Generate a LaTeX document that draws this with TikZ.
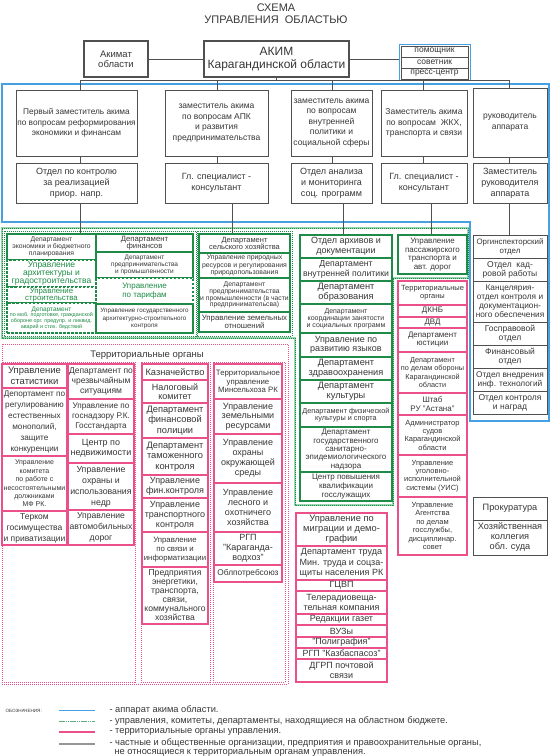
\documentclass[tikz,border=0pt]{standalone}
\usepackage{fontspec}
\setmainfont{Liberation Sans}
\definecolor{bl}{RGB}{70,160,225}
\definecolor{gr}{RGB}{30,140,70}
\definecolor{lgr}{RGB}{150,215,175}
\definecolor{pk}{RGB}{236,80,138}
\definecolor{dg}{RGB}{80,80,80}
\definecolor{tx}{RGB}{55,55,55}
\tikzset{
 f/.style 2 args={font=\fontsize{#1}{#2}\selectfont},
 base/.style={align=center,inner sep=0pt,text=tx,fill=white},
 gb/.style={base,draw=dg,line width=0.9pt},
 tb/.style={base,draw=dg,line width=2pt},
 gn/.style={base,draw=gr,line width=1.4pt},
 gd/.style={base,draw=gr,line width=1.4pt,dash pattern=on 2.5pt off 1.5pt,text=gr},
 pb/.style={base,draw=pk,line width=1.1pt},
 conn/.style={draw=dg,line width=0.8pt},
 dotpk/.style={draw=pk,line width=0.8pt,dash pattern=on 1pt off 1pt},
 dotgr/.style={draw=gr,line width=0.8pt,dash pattern=on 1pt off 1pt},
}
\newcommand\bx[7]{\node[#1,minimum width={(#4-#2)*1pt},minimum height={(#5-#3)*1pt}] (#6) at ({(#2+#4)/2},{(#3+#5)/2}) {#7};}
\begin{document}
\begin{tikzpicture}[x=1pt,y=-1pt]
\useasboundingbox (0,0) rectangle (552,756);
% title
\node[f={11}{12},text=tx] (t1) at (276,8) {СХЕМА};
\node[f={11}{12},text=tx] (t2) at (276,20) {УПРАВЛЕНИЯ\ \ ОБЛАСТЬЮ};
% frames
\draw[bl,line width=1.1pt] (2,84) -- (549,84) -- (549,421) -- (470,421) -- (470,222) -- (2,222) -- cycle;
\draw[lgr,line width=2pt] (2,228) -- (468,228) -- (468,278) -- (393,278) -- (393,505) -- (295,505) -- (295,338) -- (2,338) -- cycle;
\draw[gr,line width=0.6pt,dash pattern=on 0.8pt off 1.2pt] (2,228) -- (468,228) -- (468,278) -- (393,278) -- (393,505) -- (295,505) -- (295,338) -- (2,338) -- cycle;
\draw[dotgr] (4,231) rectangle (196,336);
\draw[dotgr] (197,231) rectangle (292,336);
\draw[dotpk] (2,344) rectangle (288,684);
\draw[dotpk] (2,362) rectangle (135,682);
\draw[dotpk] (141,362) rectangle (210,682);
\draw[dotpk] (213,362) rectangle (285,682);
% top
\bx{tb,f={9.5}{10}}{84}{41}{148}{77}{akimat}{Акимат\\области}
\bx{tb,f={12}{13}}{204}{41}{349}{77}{akim}{АКИМ\\Карагандинской области}
\node[draw=bl,line width=1pt,minimum width=71pt,minimum height=36pt,inner sep=0pt] (pgrp) at (434.5,62) {};
\bx{gb,f={8.5}{9}}{401}{46}{468}{57}{pom}{помощник}
\bx{gb,f={8.5}{9}}{401}{57}{468}{68}{sov}{советник}
\bx{gb,f={8.5}{9}}{401}{68}{468}{79}{press}{пресс-центр}
% deputies
\bx{gb,f={8.3}{10.5}}{16}{90}{137}{156}{d1}{Первый заместитель акима\\по вопросам реформирования\\экономики и финансам}
\bx{gb,f={8.5}{10.5}}{165}{90}{268}{156}{d2}{заместитель акима\\по вопросам АПК\\и развития\\предпринимательства}
\bx{gb,f={8.5}{10.5}}{291}{90}{372}{156}{d3}{заместитель акима\\по вопросам\\внутренней\\политики и\\социальной сферы}
\bx{gb,f={8.5}{10.5}}{381}{90}{467}{156}{d4}{Заместитель акима\\по вопросам\ \ ЖКХ,\\транспорта и связи}
\bx{gb,f={8.5}{10.5}}{473}{88}{547}{157}{ruk}{руководитель\\аппарата}
\bx{gb,f={9}{11}}{16}{163}{137}{203}{s1}{Отдел по контролю\\за реализацией\\приор. напр.}
\bx{gb,f={9}{11}}{165}{163}{268}{203}{s2}{Гл. специалист -\\консультант}
\bx{gb,f={9}{11}}{291}{163}{372}{203}{s3}{Отдел анализа\\и мониторинга\\соц. программ}
\bx{gb,f={9}{11}}{381}{163}{467}{203}{s4}{Гл. специалист -\\консультант}
\bx{gb,f={9}{11}}{473}{163}{547}{203}{s5}{Заместитель\\руководителя\\аппарата}
% green left
\bx{gn,f={6.8}{7.3}}{7}{234}{96}{260}{g1}{Департамент\\экономики и бюджетного\\планирования}
\bx{gd,f={8.5}{7.8}}{7}{260}{96}{287}{g2}{Управление\\архитектуры и\\градостроительства}
\bx{gd,f={7.8}{7}}{7}{287}{96}{303}{g3}{Управление\\строительства}
\bx{gd,f={5.4}{5.6}}{7}{303}{96}{333}{g4}{{\fontsize{6.5}{6}\selectfont Департамент}\\по моб. подготовке, гражданской\\обороне орг. предупр. и ликвид.\\аварий и стих. бедствий}
\bx{gn,f={7.7}{7.5}}{96}{234}{193}{252}{g5}{Департамент\\финансов}
\bx{gn,f={6.5}{7.3}}{96}{252}{193}{278}{g6}{Департамент\\предпринимательства\\и промышленности}
\bx{gd,f={8}{8.5}}{96}{278}{193}{304}{g7}{Управление\\по тарифам}
\bx{gn,f={6.3}{7.3}}{96}{304}{193}{333}{g8}{Управление государственного\\архитектурно-строительного\\контроля}
% green center
\bx{gn,f={7.5}{7.7}}{199}{234}{290}{253}{c1}{Департамент\\сельского хозяйства}
\bx{gn,f={6.9}{7.2}}{199}{253}{290}{278}{c2}{Управление природных\\ресурсов и регулирования\\природопользования}
\bx{gn,f={6.8}{6.8}}{199}{278}{290}{312}{c3}{Департамент\\предпринимательства\\и промышленности (в части\\предпринимательсва)}
\bx{gn,f={7.8}{7.8}}{199}{312}{290}{332}{c4}{Управление земельных\\отношений}
% column 3
\bx{gn,f={9}{10}}{300}{235}{392}{258}{k1}{Отдел архивов и\\документации}
\bx{gn,f={8.7}{9.5}}{300}{258}{392}{281}{k2}{Департамент\\внутренней политики}
\bx{gn,f={9.3}{10}}{300}{281}{392}{304}{k3}{Департамент\\образования}
\bx{gn,f={7}{7}}{300}{304}{392}{333}{k4}{Департамент\\координации занятости\\и социальных программ}
\bx{gn,f={9}{8.8}}{300}{333}{392}{357}{k5}{Управление по\\развитию языков}
\bx{gn,f={9.2}{9.5}}{300}{357}{392}{380}{k6}{Департамент\\здравоохранения}
\bx{gn,f={9.2}{9.5}}{300}{380}{392}{403}{k7}{Департамент\\культуры}
\bx{gn,f={7.3}{7.7}}{300}{403}{392}{427}{k8}{Департамент физической\\культуры и спорта}
\bx{gn,f={8}{8.3}}{300}{427}{392}{472}{k9}{Департамент\\государственного\\санитарно-\\эпидемиологического\\надзора}
\bx{gn,f={8}{8.7}}{300}{472}{392}{501}{k10}{Центр повышения\\квалификации\\госслужащих}
% transport
\bx{gn,line width=1.8pt,f={8}{8.6}}{398}{235}{467}{274}{tr}{Управление\\пассажирского\\транспорта и\\авт. дорог}
% pink column
\bx{pb,f={7.5}{7.7}}{398}{281}{467}{305}{p1}{Территориальные\\органы}
\bx{pb,f={8}{8}}{398}{305}{467}{317}{p2}{ДКНБ}
\bx{pb,f={8}{8}}{398}{317}{467}{328}{p3}{ДВД}
\bx{pb,f={8}{8}}{398}{328}{467}{352}{p4}{Департамент\\юстиции}
\bx{pb,f={7.3}{8.3}}{398}{352}{467}{393}{p5}{Департамент\\по делам обороны\\Карагандинской\\области}
\bx{pb,f={8}{8.5}}{398}{393}{467}{415}{p6}{Штаб\\РУ "Астана"}
\bx{pb,f={7.5}{8.3}}{398}{415}{467}{455}{p7}{Администратор\\судов\\Карагандинской\\области}
\bx{pb,f={7.5}{8.3}}{398}{455}{467}{497}{p8}{Управление\\уголовно-\\исполнительной\\системы (УИС)}
\bx{pb,f={7.5}{8.5}}{398}{497}{467}{555}{p9}{Управление\\Агентства\\по делам\\госслужбы,\\дисциплинар.\\совет}
% right column
\bx{gb,f={7.9}{8.8}}{473}{235}{547}{258}{r1}{Оргинспекторский\\отдел}
\bx{gb,f={8.5}{9}}{473}{258}{547}{281}{r2}{Отдел\ \ кад-\\ровой работы}
\bx{gb,f={8.3}{9}}{473}{281}{547}{322}{r3}{Канцелярия-\\отдел контроля и\\документацион-\\ного обеспечения}
\bx{gb,f={8.5}{9}}{473}{322}{547}{345}{r4}{Госправовой\\отдел}
\bx{gb,f={8.5}{9}}{473}{345}{547}{368}{r5}{Финансовый\\отдел}
\bx{gb,f={8.3}{9}}{473}{368}{547}{391}{r6}{Отдел внедрения\\инф. технологий}
\bx{gb,f={8.5}{9}}{473}{391}{547}{414}{r7}{Отдел контроля\\и наград}
\bx{gb,f={9.2}{10}}{473}{497}{547}{520}{prok}{Прокуратура}
\bx{gb,f={9.2}{10}}{473}{520}{547}{555}{hoz}{Хозяйственная\\коллегия\\обл. суда}
% territorial
\node[f={9.5}{10},text=tx] (tlab) at (147,355) {Территориальные органы};
\bx{pb,f={9.5}{10.8}}{2}{364}{67}{388}{a1}{Управление\\статистики}
\bx{pb,f={8.2}{11}}{2}{388}{67}{456}{a2}{Депортамент по\\регулированию\\естественных\\монополий,\\защите\\конкуренции}
\bx{pb,f={7}{8.4}}{2}{456}{67}{511}{a3}{Управление\\комитета\\по работе с\\несостоятельными\\должниками\\МФ РК.}
\bx{pb,f={8.5}{11}}{2}{511}{67}{545}{a4}{Терком\\госимущества\\и приватизации}
\bx{pb,f={8.5}{10}}{68}{364}{134}{399}{b1}{Департамент по\\чрезвычайным\\ситуациям}
\bx{pb,f={8.2}{10}}{68}{399}{134}{434}{b2}{Управление по\\госнадзору Р.К.\\Госстандарта}
\bx{pb,f={9}{10.5}}{68}{434}{134}{463}{b3}{Центр по\\недвижимости}
\bx{pb,f={8.8}{11}}{68}{463}{134}{510}{b4}{Управление\\охраны и\\использования\\недр}
\bx{pb,f={8.6}{11}}{68}{510}{134}{545}{b5}{Управление\\автомобильных\\дорог}
\bx{pb,f={9.3}{10}}{142}{364}{208}{380}{cc1}{Казначейство}
\bx{pb,f={9}{9.5}}{142}{380}{208}{403}{cc2}{Налоговый\\комитет}
\bx{pb,f={9.3}{10.5}}{142}{403}{208}{438}{cc3}{Департамент\\финансовой\\полиции}
\bx{pb,f={9.3}{10.5}}{142}{438}{208}{475}{cc4}{Департамент\\таможенного\\контроля}
\bx{pb,f={9}{9.5}}{142}{475}{208}{498}{cc5}{Управление\\фин.контроля}
\bx{pb,f={9}{10}}{142}{498}{208}{532}{cc6}{Управление\\транспортного\\контроля}
\bx{pb,f={7.8}{9}}{142}{532}{208}{567}{cc7}{Управление\\по связи и\\информатизации}
\bx{pb,f={8.6}{9}}{142}{567}{208}{624}{cc8}{Предприятия\\энергетики,\\транспорта,\\связи,\\коммунального\\хозяйства}
\bx{pb,f={7.8}{8.3}}{214}{364}{282}{399}{dd1}{Территориальное\\управление\\Минсельхоза РК}
\bx{pb,f={9}{9.5}}{214}{399}{282}{434}{dd2}{Управление\\земельными\\ресурсами}
\bx{pb,f={9}{10}}{214}{434}{282}{483}{dd3}{Управление\\охраны\\окружающей\\среды}
\bx{pb,f={9}{10}}{214}{483}{282}{532}{dd4}{Управление\\лесного и\\охотничего\\хозяйства}
\bx{pb,f={9}{10}}{214}{532}{282}{565}{dd5}{РГП\\"Караганда-\\водхоз"}
\bx{pb,f={8.3}{9}}{214}{565}{282}{582}{dd6}{Облпотребсоюз}
% migration column
\bx{pb,f={9.3}{10}}{296}{513}{387}{546}{m1}{Управление по\\миграции и демо-\\графии}
\bx{pb,f={9}{10.3}}{296}{546}{387}{580}{m2}{Департамент труда\\Мин. труда и соцза-\\щиты населения РК}
\bx{pb,f={9}{9}}{296}{580}{387}{591}{m3}{ГЦВП}
\bx{pb,f={9}{10}}{296}{591}{387}{614}{m4}{Телерадиовеща-\\тельная компания}
\bx{pb,f={9}{9}}{296}{614}{387}{625}{m5}{Редакции газет}
\bx{pb,f={9}{9}}{296}{625}{387}{637}{m6}{ВУЗы}
\bx{pb,f={9}{9}}{296}{637}{387}{648}{m7}{"Полиграфия"}
\bx{pb,f={9}{9}}{296}{648}{387}{659}{m8}{РГП "Казбаспасоз"}
\bx{pb,f={9}{10}}{296}{659}{387}{682}{m9}{ДГРП почтовой\\связи}
% connectors
\coordinate (bL) at (80,80);
\coordinate (bR) at (509,80);
\coordinate (x2) at (217,80);
\coordinate (x3) at (332,80);
\coordinate (x4) at (423,80);
\coordinate (x2b) at (232,0);
\coordinate (x3b) at (343,0);
\coordinate (x4b) at (431,0);
\draw[conn] (akimat.east) -- (akim.west);
\draw[conn] (akim.east) -- (pgrp.west |- akim.east);
\draw[conn] (akim.south) -- (akim.south |- bL);
\draw[conn] (bL) -- (bR);
\draw[conn] (bL) -- (bL |- d1.north);
\draw[conn] (d1.south -| bL) -- (s1.north -| bL);
\draw[conn] (s1.south -| bL) -- (g1.north -| bL);
\draw[conn] (x2) -- (x2 |- d2.north);
\draw[conn] (d2.south -| x2) -- (s2.north -| x2);
\draw[conn] (s2.south -| x2b) -- (c1.north -| x2b);
\draw[conn] (x3) -- (x3 |- d3.north);
\draw[conn] (d3.south -| x3) -- (s3.north -| x3);
\draw[conn] (s3.south -| x3b) -- (k1.north -| x3b);
\draw[conn] (x4) -- (x4 |- d4.north);
\draw[conn] (d4.south -| x4) -- (s4.north -| x4);
\draw[conn] (s4.south -| x4b) -- (tr.north -| x4b);
\draw[conn] (bR) -- (bR |- ruk.north);
\draw[conn] (ruk.south -| bR) -- (s5.north -| bR);
\draw[conn] (s5.south -| bR) -- (r1.north -| bR);
% legend
\node[anchor=west,f={4.6}{5},text=tx] (lg0) at (2,711) {ОБОЗНАЧЕНИЯ:};
\draw[bl,line width=1pt] (59,710) -- (95,710);
\draw[gr!70,line width=1pt,dash pattern=on 1.5pt off 0.7pt] (59,721) -- (95,721);
\draw[pk,line width=1.2pt] (59,732) -- (95,732);
\draw[dg!60,line width=1.8pt] (59,744) -- (95,744);
\node[anchor=west,f={9.3}{10},text=tx] (lg1) at (106,710) {- аппарат акима области.};
\node[anchor=west,f={9.3}{10},text=tx] (lg2) at (106,721) {- управления, комитеты, департаменты, находящиеся на областном бюджете.};
\node[anchor=west,f={9.3}{10},text=tx] (lg3) at (106,732) {- территориальные органы управления.};
\node[anchor=west,f={9.3}{10},text=tx] (lg4) at (106,743) {- частные и общественные организации, предприятия и правоохранительные органы,};
\node[anchor=west,f={9.3}{10},text=tx] (lg5) at (111,753) {не относящиеся к территориальным органам управления.};
\end{tikzpicture}
\end{document}
